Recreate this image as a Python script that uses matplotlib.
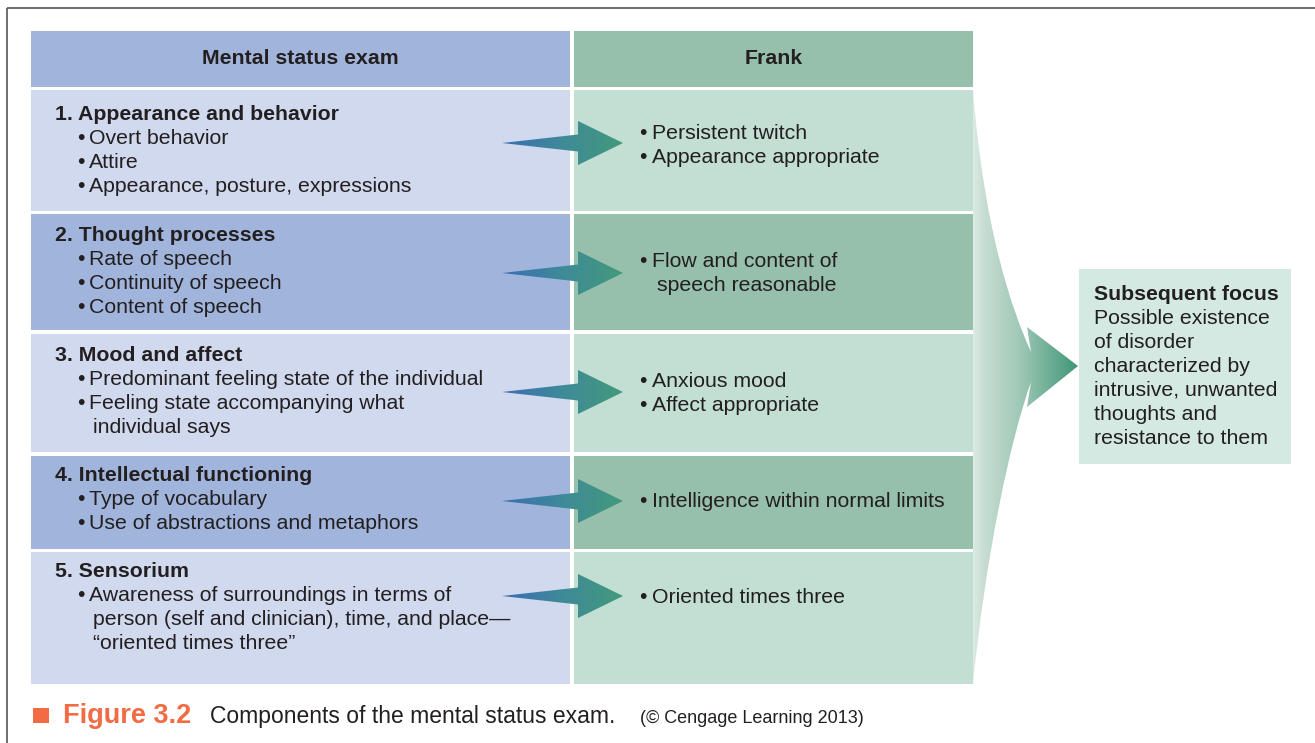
import matplotlib
matplotlib.use("Agg")
import matplotlib.pyplot as plt
import numpy as np
from matplotlib.patches import Rectangle, Polygon, PathPatch
from matplotlib.path import Path
from matplotlib.colors import LinearSegmentedColormap

plt.rcParams['font.family'] = ['Liberation Sans', 'DejaVu Sans']

# ---------------- content ----------------
header_left = "Mental status exam"
header_right = "Frank"

section_titles = [
    "1. Appearance and behavior",
    "2. Thought processes",
    "3. Mood and affect",
    "4. Intellectual functioning",
    "5. Sensorium",
]
# (is_bullet, text)
section_items = [
    [(True, "Overt behavior"), (True, "Attire"), (True, "Appearance, posture, expressions")],
    [(True, "Rate of speech"), (True, "Continuity of speech"), (True, "Content of speech")],
    [(True, "Predominant feeling state of the individual"),
     (True, "Feeling state accompanying what"), (False, "individual says")],
    [(True, "Type of vocabulary"), (True, "Use of abstractions and metaphors")],
    [(True, "Awareness of surroundings in terms of"),
     (False, "person (self and clinician), time, and place\u2014"),
     (False, "\u201coriented times three\u201d")],
]
frank_items = [
    [(True, "Persistent twitch"), (True, "Appearance appropriate")],
    [(True, "Flow and content of"), (False, "speech reasonable")],
    [(True, "Anxious mood"), (True, "Affect appropriate")],
    [(True, "Intelligence within normal limits")],
    [(True, "Oriented times three")],
]
focus_title = "Subsequent focus"
focus_lines = ["Possible existence", "of disorder", "characterized by",
               "intrusive, unwanted", "thoughts and", "resistance to them"]

caption_fig = "Figure 3.2"
caption_text = "Components of the mental status exam."
caption_credit = "(\u00a9 Cengage Learning 2013)"

# ---------------- layout (pixels) ----------------
W, H = 1315, 743
row_tops = [90, 214, 334, 456, 552]
row_bots = [211, 330, 452, 549, 684]
row_dark = [False, True, False, True, False]
left_x0, left_x1 = 31, 570
right_x0, right_x1 = 574, 973
head_y0, head_y1 = 31, 87
title_base = [120, 241, 361, 481, 577]
frank_base = [139, 267, 387, 507, 603]
arrow_y = [143, 273, 392, 501, 596]
line_h = 24
FS = 15.3

TXT = '#231f20'
C_LEFT_HEAD = '#a1b5dc'
C_LEFT_LIGHT = '#d0d9ee'
C_LEFT_DARK = '#a1b5dc'
C_RIGHT_HEAD = '#96c0ab'
C_RIGHT_LIGHT = '#c3dfd4'
C_RIGHT_DARK = '#96c0ab'
C_BOX = '#d4e9e1'
C_ORANGE = '#f26b43'

fig = plt.figure(figsize=(W / 100, H / 100), dpi=100)
ax = fig.add_axes([0, 0, 1, 1])
ax.set_xlim(0, W)
ax.set_ylim(H, 0)
ax.axis('off')

# frame
ax.plot([7, W], [8, 8], color='#555555', lw=1.2, solid_capstyle='butt')
ax.plot([7, 7], [8, H], color='#555555', lw=1.2, solid_capstyle='butt')

def rect(x0, y0, x1, y1, color, z=1):
    ax.add_patch(Rectangle((x0, y0), x1 - x0, y1 - y0, facecolor=color,
                           edgecolor='none', zorder=z))

# headers
rect(left_x0, head_y0, left_x1, head_y1, C_LEFT_HEAD)
rect(right_x0, head_y0, right_x1, head_y1, C_RIGHT_HEAD)
ax.text((left_x0 + left_x1) / 2, 59, header_left, ha='center', va='center',
        fontsize=FS, fontweight='bold', color=TXT)
ax.text((right_x0 + right_x1) / 2, 59, header_right, ha='center', va='center',
        fontsize=FS, fontweight='bold', color=TXT)

# funnel arrow
fun_verts = [(973, 90), (984, 230), (1012, 310), (1031, 352),
             (1027, 327), (1078, 366), (1027, 407), (1031, 382),
             (1010, 440), (985, 560), (973, 684), (973, 90)]
fun_codes = [Path.MOVETO, Path.CURVE4, Path.CURVE4, Path.CURVE4,
             Path.LINETO, Path.LINETO, Path.LINETO, Path.LINETO,
             Path.CURVE4, Path.CURVE4, Path.CURVE4, Path.CLOSEPOLY]
fun_patch = PathPatch(Path(fun_verts, fun_codes), facecolor='none', edgecolor='none')
ax.add_patch(fun_patch)
fun_cmap = LinearSegmentedColormap.from_list(
    'fun', [(0, '#dcebe4'), (0.1, '#c8ddd3'), (0.45, '#9fc8b6'), (1, '#3f9677')])
grad = np.linspace(0, 1, 256).reshape(1, -1)
im = ax.imshow(grad, extent=(973, 1078, 684, 90), cmap=fun_cmap, aspect='auto',
               interpolation='bilinear', zorder=1)
im.set_clip_path(fun_patch)

# rows
for i in range(5):
    y0, y1 = row_tops[i], row_bots[i]
    rect(left_x0, y0, left_x1, y1, C_LEFT_DARK if row_dark[i] else C_LEFT_LIGHT)
    rect(right_x0, y0, right_x1, y1, C_RIGHT_DARK if row_dark[i] else C_RIGHT_LIGHT)

    tb = title_base[i]
    ax.text(55, tb, section_titles[i], ha='left', va='baseline', fontsize=FS,
            fontweight='bold', color=TXT, zorder=5)
    for k, (is_b, s) in enumerate(section_items[i]):
        yb = tb + line_h * (k + 1)
        if is_b:
            ax.text(77, yb, "\u2022", ha='left', va='baseline', fontsize=FS, color=TXT, zorder=5)
            ax.text(89, yb, s, ha='left', va='baseline', fontsize=FS, color=TXT, zorder=5)
        else:
            ax.text(93, yb, s, ha='left', va='baseline', fontsize=FS, color=TXT, zorder=5)

    fb = frank_base[i]
    for k, (is_b, s) in enumerate(frank_items[i]):
        yb = fb + line_h * k
        if is_b:
            ax.text(639, yb, "\u2022", ha='left', va='baseline', fontsize=FS, color=TXT, zorder=5)
            ax.text(652, yb, s, ha='left', va='baseline', fontsize=FS, color=TXT, zorder=5)
        else:
            ax.text(657, yb, s, ha='left', va='baseline', fontsize=FS, color=TXT, zorder=5)

# small gradient arrows
arr_cmap = LinearSegmentedColormap.from_list('arr', ['#3a6db5', '#3f8a98', '#429a7c'])
for i in range(5):
    ay = arrow_y[i]
    pts = [(502, ay), (578, ay - 8.5), (578, ay - 22), (623, ay),
           (578, ay + 22), (578, ay + 8.5)]
    poly = Polygon(pts, closed=True, facecolor='none', edgecolor='none', zorder=4)
    ax.add_patch(poly)
    aim = ax.imshow(grad, extent=(502, 623, ay + 23, ay - 23), cmap=arr_cmap,
                    aspect='auto', interpolation='bilinear', zorder=4)
    aim.set_clip_path(poly)

# subsequent focus box
rect(1079, 269, 1291, 464, C_BOX)
ax.text(1094, 300, focus_title, ha='left', va='baseline', fontsize=FS,
        fontweight='bold', color=TXT, zorder=5)
for k, s in enumerate(focus_lines):
    ax.text(1094, 300 + line_h * (k + 1), s, ha='left', va='baseline',
            fontsize=FS, color=TXT, zorder=5)

# caption
rect(33, 708, 49, 723, C_ORANGE)
ax.text(63, 723, caption_fig, ha='left', va='baseline', fontsize=19.5,
        fontweight='bold', color=C_ORANGE)
ax.text(210, 723, caption_text, ha='left', va='baseline', fontsize=16.5, color=TXT)
ax.text(640, 723, caption_credit, ha='left', va='baseline', fontsize=13, color=TXT)

ax.set_xlim(0, W)
ax.set_ylim(H, 0)
fig.savefig('out.png', dpi=100)
